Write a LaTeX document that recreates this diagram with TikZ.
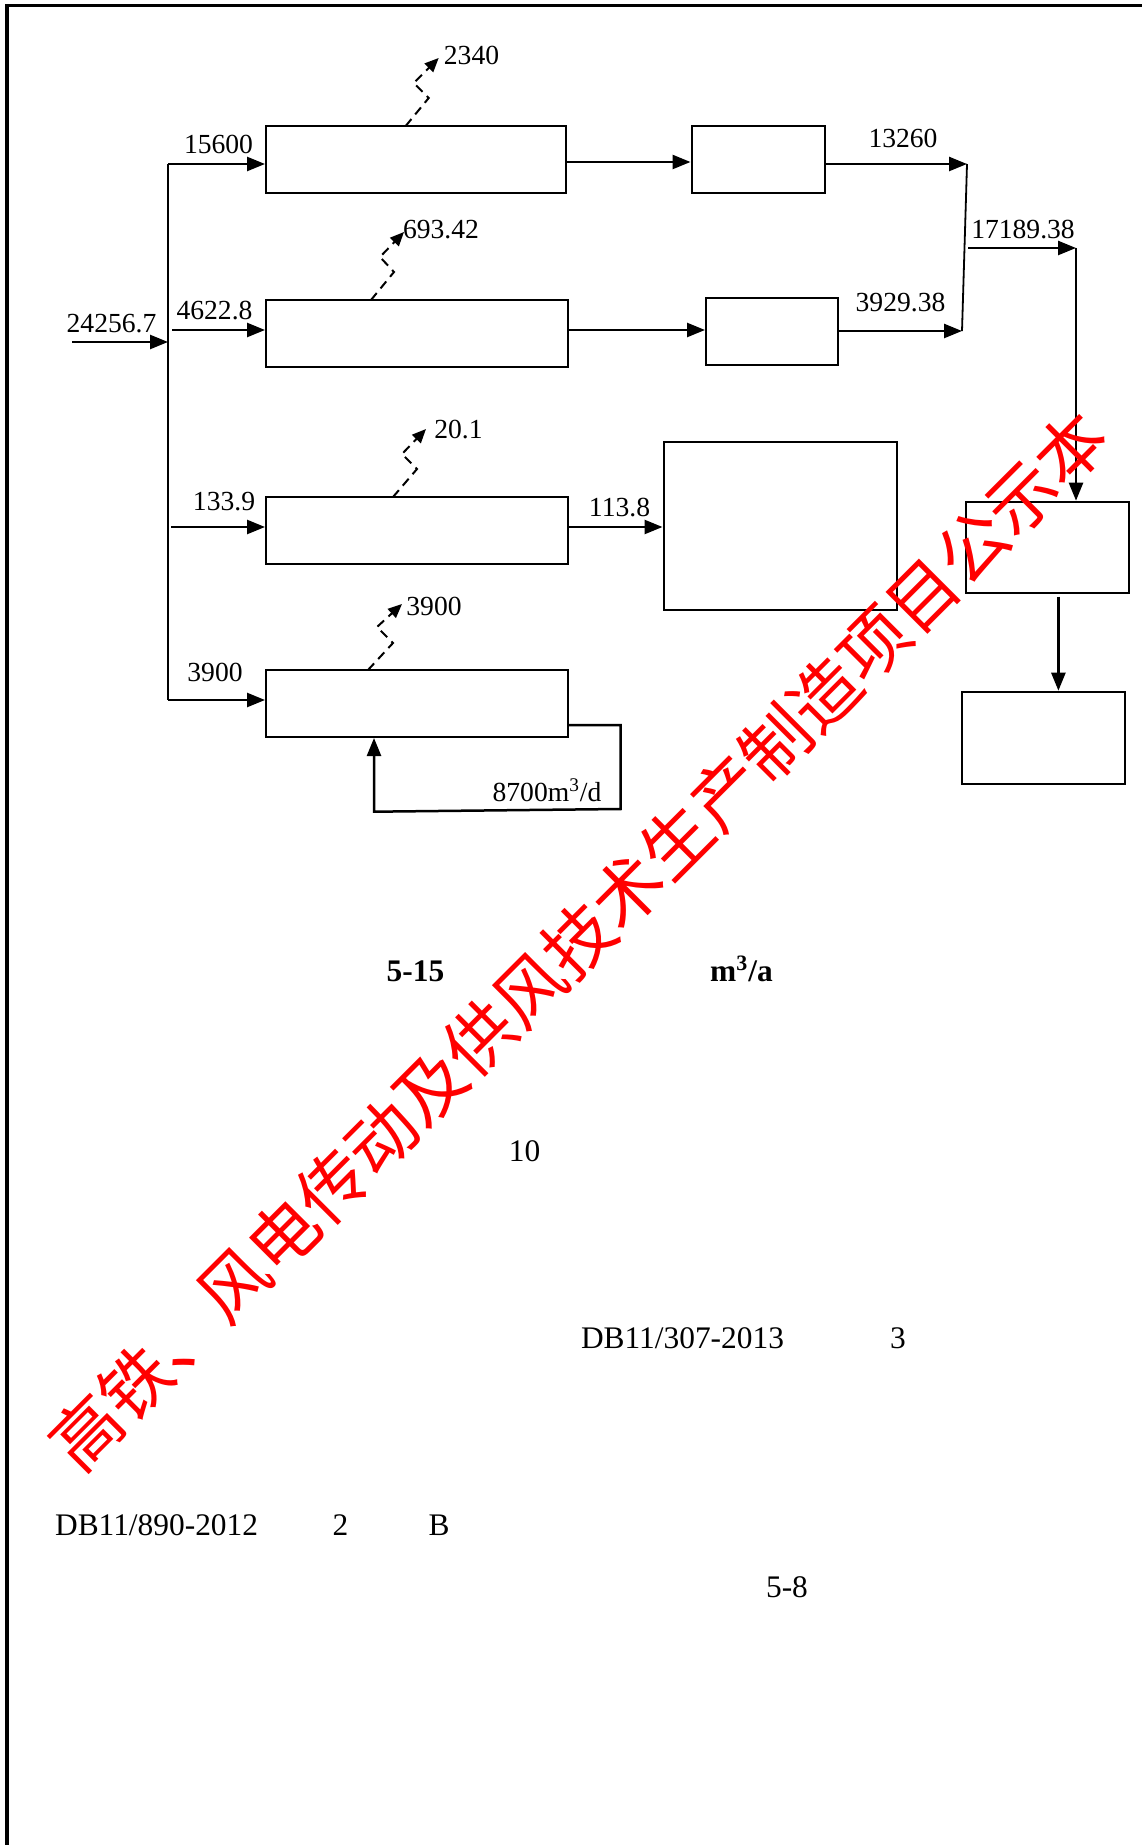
\documentclass[tikz,border=0pt]{standalone}
\usepackage{fontspec}
\setmainfont{Liberation Serif}
\newfontfamily\cjk{Noto Sans CJK SC}
\usetikzlibrary{arrows.meta}
\begin{document}
\begin{tikzpicture}[x=0.5pt,y=-0.5pt,
  blk/.style={draw,line width=1pt,inner sep=0pt,fill=none},
  flow/.style={line width=1.25pt,-{Triangle[length=9pt,width=7pt]}},
  thinline/.style={line width=0.9pt},
  vent/.style={line width=1pt,dash pattern=on 4.5pt off 3pt,-{Triangle[length=7pt,width=6pt]}},
  lab/.style={font=\fontsize{13.8}{16}\selectfont,inner sep=0pt,anchor=base},
  txt/.style={font=\fontsize{15.7}{18}\selectfont,inner sep=0pt,anchor=base},
  wm/.style={font=\cjk\fontsize{34.8}{40}\selectfont,text=red,inner sep=0pt,rotate=45}]
\fill[white] (0,0) rectangle (1142,1845);
\useasboundingbox (0,0) rectangle (1142,1845);
% frame
\draw[line width=1.75pt] (7,1845) -- (7,5.5) -- (1142,5.5);
% boxes
\node[blk,minimum width=150pt,minimum height=33.5pt] (b1) at (416,159.5) {};
\node[blk,minimum width=151pt,minimum height=33.5pt] (b2) at (417,333.5) {};
\node[blk,minimum width=151pt,minimum height=33.5pt] (b3) at (417,530.5) {};
\node[blk,minimum width=151pt,minimum height=33.5pt] (b4) at (417,703.5) {};
\node[blk,minimum width=66.5pt,minimum height=33.5pt] (c1) at (758,159.5) {};
\node[blk,minimum width=66pt,minimum height=33.5pt] (c2) at (772,331.5) {};
\node[blk,minimum width=116.5pt,minimum height=84pt] (D) at (780,526) {};
\node[blk,minimum width=81.3pt,minimum height=45.8pt] (C) at (1047.7,547.5) {};
\node[blk,minimum width=81.7pt,minimum height=46.3pt] (E) at (1043.7,738) {};
% trunk
\coordinate (in0) at (72,342);
\coordinate (vtop) at (168,164);
\coordinate (vbot) at (168,700);
\coordinate (s2) at (172,330);
\coordinate (s3) at (171,527);
\draw[thinline] (vtop) -- (vbot);
\draw[flow] (in0) -- (in0 -| vtop);
\draw[flow] (vtop) -- (vtop -| b1.west);
\draw[flow] (s2) -- (s2 -| b2.west);
\draw[flow] (s3) -- (s3 -| b3.west);
\draw[flow] (vbot) -- (vbot -| b4.west);
% right part
\coordinate (r1) at (566,162);
\draw[flow] (b1.east |- r1) -- (r1 -| c1.west);
\draw[flow] (b2.east |- s2) -- (s2 -| c2.west);
\coordinate (m1) at (967,164);
\coordinate (m2) at (962,331);
\draw[flow] (c1.east |- m1) -- (m1);
\draw[flow] (c2.east |- m2) -- (m2);
\draw[thinline] (m1) -- (m2);
\coordinate (j1) at (968,248);
\coordinate (j2) at (1076,248);
\draw[flow] (j1) -- (j2);
\draw[flow] (j2) -- (j2 |- C.north);
\draw[flow] (b3.east |- s3) -- (s3 -| D.west);
\coordinate (ce) at (1058.4,596.7);
\draw[flow] (ce) -- (ce |- E.north);
% recycle loop
\coordinate (l1) at (620.5,725);
\coordinate (l2) at (620.5,809);
\coordinate (l3) at (374,811.7);
\draw[flow] (b4.east |- l1) -- (l1) -- (l2) -- (l3) -- (l3 |- b4.south);
% vents
\coordinate (v1) at (405.7,126);
\coordinate (v2) at (371,300);
\coordinate (v3) at (393,497);
\coordinate (v4) at (368,670);
\draw[vent] (v1) -- ++(23,-28) -- ++(-15,-15) -- ++(25,-25);
\draw[vent] (v2) -- ++(23,-28) -- ++(-14,-15) -- ++(24,-25);
\draw[vent] (v3) -- ++(24,-28) -- ++(-15,-15) -- ++(24,-25);
\draw[vent] (v4) -- ++(25,-27) -- ++(-16,-16) -- ++(25,-23);
% labels
\node[lab] (t2340) at (471.5,65) {2340};
\node[lab] (t15600) at (218.5,154) {15600};
\node[lab] (t69342) at (441,239) {693.42};
\node[lab] (t24256) at (111.5,333) {24256.7};
\node[lab] (t4622) at (214.5,320) {4622.8};
\node[lab] (t13260) at (903,148) {13260};
\node[lab] (t3929) at (900.5,312) {3929.38};
\node[lab] (t17189) at (1023,239) {17189.38};
\node[lab] (t201) at (458.5,439) {20.1};
\node[lab] (t1339) at (224,510) {133.9};
\node[lab] (t1138) at (619.5,516.5) {113.8};
\node[lab] (t3900a) at (434,615) {3900};
\node[lab] (t3900b) at (215,681.5) {3900};
\node[lab] (t8700) at (547,801.5) {8700m\textsuperscript{3}/d};
% body text
\node[txt] (f515) at (415.5,981) {\textbf{5-15}};
\node[txt] (funit) at (741.5,981) {\textbf{m\textsuperscript{3}/a}};
\node[txt] (f10) at (524.5,1161) {10};
\node[txt] (fdb1) at (682.5,1348) {DB11/307-2013};
\node[txt] (f3) at (898,1348) {3};
\node[txt] (fdb2) at (156.6,1535) {DB11/890-2012};
\node[txt] (f2) at (340.5,1535) {2};
\node[txt] (fB) at (439,1535) {B};
\node[txt] (f58) at (787,1597) {5-8};
% watermark
\node[wm] (wmark) at (578.4,940) {高铁、风电传动及供风技术生产制造项目公示本};
\end{tikzpicture}
\end{document}
